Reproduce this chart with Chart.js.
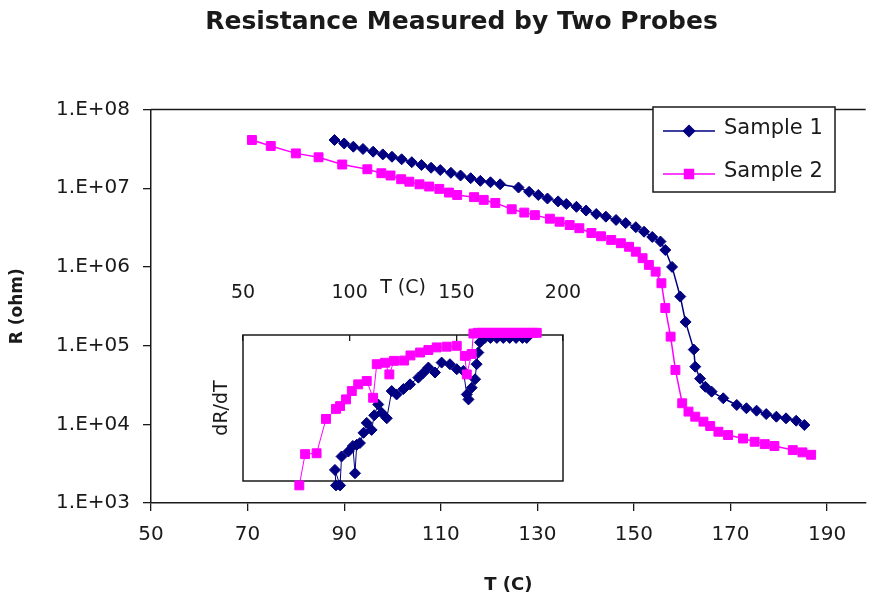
<!DOCTYPE html>
<html>
<head>
<meta charset="utf-8">
<script src="https://cdn.jsdelivr.net/npm/chart.js@4/dist/chart.umd.min.js"></script>
<style>
  html, body { margin: 0; padding: 0; background: #fff; }
  #wrap { position: relative; width: 873px; height: 605px; }
  #main { position: absolute; left: 0; top: 0; }
  #inset { position: absolute; left: 200px; top: 270px; }
</style>
</head>
<body>
<div id="wrap">
  <canvas id="main" width="873" height="605"></canvas>
  <canvas id="inset" width="380" height="230"></canvas>
</div>
<script>
// main chart: resistance vs temperature
const tempTicks = [50, 70, 90, 110, 130, 150, 170, 190];
const resTicks = [1e3, 1e4, 1e5, 1e6, 1e7, 1e8];

const s1Temp = [88.0, 90.0, 91.9, 93.9, 96.0, 98.0, 99.9, 101.9, 104.0, 106.0,
  108.0, 109.9, 112.1, 114.1, 116.2, 118.2, 120.3, 122.3, 126.1, 128.3,
  130.2, 132.1, 134.3, 136.0, 138.1, 140.1, 142.2, 144.2, 146.3, 148.3,
  150.4, 152.1, 153.8, 155.5, 156.5, 157.9, 159.6, 160.7, 162.4, 162.7,
  163.7, 164.8, 166.1, 168.5, 171.3, 173.3, 175.4, 177.4, 179.5, 181.5,
  183.6, 185.3];
const s1Res = [4.1e7, 3.7e7, 3.37e7, 3.15e7, 2.91e7, 2.69e7, 2.51e7, 2.33e7, 2.14e7, 1.97e7,
  1.82e7, 1.70e7, 1.57e7, 1.45e7, 1.34e7, 1.24e7, 1.19e7, 1.12e7, 1.02e7, 9.0e6,
  8.2e6, 7.4e6, 6.8e6, 6.3e6, 5.8e6, 5.2e6, 4.7e6, 4.35e6, 3.95e6, 3.6e6,
  3.2e6, 2.8e6, 2.4e6, 2.1e6, 1.64e6, 1.0e6, 4.2e5, 2.0e5, 8.9e4, 5.4e4,
  3.8e4, 3.0e4, 2.6e4, 2.14e4, 1.76e4, 1.6e4, 1.49e4, 1.35e4, 1.25e4, 1.19e4,
  1.11e4, 9.8e3];

const s2Temp = [70.9, 74.8, 80.0, 84.7, 89.6, 94.8, 97.7, 99.6, 101.8, 103.5,
  105.6, 107.6, 109.7, 111.7, 113.4, 116.9, 118.9, 121.3, 124.7, 127.3,
  129.5, 132.6, 134.6, 136.7, 138.7, 141.2, 143.2, 145.3, 147.3, 149.0,
  150.4, 151.8, 153.1, 154.5, 155.7, 156.5, 157.6, 158.6, 160.0, 161.3,
  162.7, 164.4, 165.8, 167.5, 169.5, 172.6, 175.0, 177.1, 179.1, 182.9,
  184.9, 186.7];
const s2Res = [4.1e7, 3.44e7, 2.77e7, 2.47e7, 2.0e7, 1.74e7, 1.55e7, 1.45e7, 1.30e7, 1.21e7,
  1.12e7, 1.05e7, 9.8e6, 8.8e6, 8.2e6, 7.7e6, 7.1e6, 6.5e6, 5.4e6, 4.9e6,
  4.55e6, 4.1e6, 3.75e6, 3.4e6, 3.1e6, 2.7e6, 2.45e6, 2.2e6, 2.0e6, 1.8e6,
  1.56e6, 1.29e6, 1.06e6, 8.7e5, 6.2e5, 3.0e5, 1.3e5, 4.9e4, 1.85e4, 1.45e4,
  1.25e4, 1.08e4, 9.5e3, 8.05e3, 7.3e3, 6.6e3, 6.0e3, 5.6e3, 5.3e3, 4.7e3,
  4.4e3, 4.1e3];

// inset: dR/dT (no scale given, arbitrary units 0-100)
const insetTicks = [50, 100, 150, 200];

const in1Temp = [93.6, 93.1, 95.5, 96.2, 99.4, 101.5, 102.5, 103.3, 104.8, 106.5,
  108.0, 110.3, 111.5, 113.4, 115.0, 117.4, 119.7, 122.0, 125.2, 128.3,
  132.2, 134.5, 136.9, 140.0, 143.1, 147.0, 150.2, 153.3, 154.9, 155.7,
  157.2, 158.8, 159.5, 160.3, 161.1, 163.4, 166, 169, 172, 175,
  178, 181, 183];
const in1Slope = [-3, 7.6, -3, 16.8, 20.2, 24, 5.3, 24.8, 26, 33,
  39.8, 35, 45, 52.4, 46.7, 43, 61.6, 59.3, 63, 66.2,
  70.8, 74, 77.7, 74.3, 81.1, 80, 76.6, 75.4, 59.3, 55.9,
  63.9, 69.7, 80, 88, 95, 98, 98, 98, 98, 98,
  98, 98, 98];

const in2Temp = [76.4, 79.1, 84.5, 88.9, 93.6, 95.5, 98.3, 101.0, 104.0, 108.0,
  111.0, 112.7, 116.6, 118.6, 120.8, 125.5, 128.5, 133.0, 136.9, 140.8,
  145.5, 150.2, 154.0, 154.9, 157.2, 158.0, 160, 162, 164, 166,
  168, 170, 172, 174, 176, 178, 180, 182, 184, 186,
  187.7];
const in2Slope = [-3, 18.4, 19, 42.5, 49.4, 51.3, 55.9, 61.6, 66.2, 68.5,
  57, 80, 81, 73, 82.3, 82.5, 86, 88, 89.7, 91.5,
  92, 92.6, 85.7, 73, 87, 101, 101.5, 101.5, 101.5, 101.5,
  101.5, 101.5, 101.5, 101.5, 101.5, 101.5, 101.5, 101.5, 101.5, 101.5,
  101.5];

const NAVY = '#000080';
const MAGENTA = '#FF00FF';
const INK = '#1a1a1a';
const FONT = 'DejaVu Sans';

function toPoints(xs, ys) {
  return xs.map((x, i) => ({ x: x, y: ys[i] }));
}

function fixedTicks(list) {
  return function (scale) {
    scale.ticks = list.map(v => ({ value: v }));
  };
}

// top edge of the plot area + legend box drawn inside the plot
const mainDecor = {
  id: 'mainDecor',
  beforeDatasetsDraw(chart) {
    const { ctx, chartArea } = chart;
    ctx.save();
    ctx.strokeStyle = INK;
    ctx.lineWidth = 1.5;
    ctx.beginPath();
    ctx.moveTo(chartArea.left, chartArea.top);
    ctx.lineTo(chartArea.right, chartArea.top);
    ctx.stroke();
    ctx.restore();
  },
  afterDraw(chart) {
    const ctx = chart.ctx;
    const box = { x: 653, y: 107, w: 182, h: 85 };
    ctx.save();
    ctx.fillStyle = '#fff';
    ctx.fillRect(box.x, box.y, box.w, box.h);
    ctx.strokeStyle = INK;
    ctx.lineWidth = 1.5;
    ctx.strokeRect(box.x, box.y, box.w, box.h);
    chart.data.datasets.forEach((ds, i) => {
      const y = box.y + 24 + i * 43;
      ctx.strokeStyle = ds.borderColor;
      ctx.fillStyle = ds.backgroundColor;
      ctx.lineWidth = ds.borderWidth;
      ctx.beginPath();
      ctx.moveTo(box.x + 10, y);
      ctx.lineTo(box.x + 62, y);
      ctx.stroke();
      Chart.helpers.drawPoint(ctx, {
        pointStyle: ds.pointStyle, radius: ds.pointRadius,
        borderWidth: ds.pointBorderWidth, rotation: 0
      }, box.x + 36, y);
      ctx.fillStyle = INK;
      ctx.font = '21px "' + FONT + '"';
      ctx.textBaseline = 'middle';
      ctx.textAlign = 'left';
      ctx.fillText(ds.label, box.x + 71, y - 2);
    });
    ctx.restore();
  }
};

new Chart(document.getElementById('main'), {
  type: 'scatter',
  data: {
    datasets: [
      {
        label: 'Sample 1', data: toPoints(s1Temp, s1Res), showLine: true,
        borderColor: NAVY, backgroundColor: NAVY, borderWidth: 1.5,
        pointStyle: 'rectRot', pointRadius: 5.5, pointBorderWidth: 1
      },
      {
        label: 'Sample 2', data: toPoints(s2Temp, s2Res), showLine: true,
        borderColor: MAGENTA, backgroundColor: MAGENTA, borderWidth: 1.5,
        pointStyle: 'rect', pointRadius: 6.3, pointBorderWidth: 1
      }
    ]
  },
  options: {
    responsive: false,
    animation: false,
    devicePixelRatio: 1,
    layout: { padding: { left: 50, right: 0, top: 0, bottom: 0 } },
    plugins: {
      legend: { display: false },
      tooltip: { enabled: false },
      title: {
        display: true, text: 'Resistance Measured by Two Probes', color: INK,
        font: { family: FONT, size: 25, weight: 'bold' },
        padding: { top: 7, bottom: 72.5 }
      }
    },
    scales: {
      x: {
        type: 'linear', min: 50, max: 198,
        afterBuildTicks: fixedTicks(tempTicks),
        afterFit(scale) { scale.height = 102; },
        ticks: { color: INK, font: { family: FONT, size: 20 }, padding: 12 },
        grid: { drawOnChartArea: false, color: INK, lineWidth: 1.3, tickLength: 8 },
        border: { color: INK, width: 1.5 },
        title: {
          display: true, text: 'T (C)', color: INK,
          font: { family: FONT, size: 18, weight: 'bold' },
          padding: { top: 0, bottom: 9 }
        }
      },
      y: {
        type: 'logarithmic', min: 1e3, max: 1e8,
        afterBuildTicks: fixedTicks(resTicks),
        afterFit(scale) { scale.width = 101; },
        ticks: {
          color: INK, font: { family: FONT, size: 20 }, padding: 13,
          callback: v => '1.E+0' + Math.round(Math.log10(v))
        },
        grid: { drawOnChartArea: false, color: INK, lineWidth: 1.3, tickLength: 8 },
        border: { color: INK, width: 1.5 },
        title: {
          display: true, text: 'R (ohm)', color: INK,
          font: { family: FONT, size: 17, weight: 'bold' },
          padding: { top: -42.2, bottom: 0 }
        }
      }
    }
  },
  plugins: [mainDecor]
});

// frame around the inset plot
const insetFrame = {
  id: 'insetFrame',
  beforeDatasetsDraw(chart) {
    const { ctx, chartArea } = chart;
    ctx.save();
    ctx.strokeStyle = INK;
    ctx.lineWidth = 1.5;
    ctx.strokeRect(chartArea.left, chartArea.top, chartArea.width, chartArea.height);
    ctx.restore();
  }
};

new Chart(document.getElementById('inset'), {
  type: 'scatter',
  data: {
    datasets: [
      {
        label: 'Sample 1', data: toPoints(in1Temp, in1Slope), showLine: true,
        borderColor: NAVY, backgroundColor: NAVY, borderWidth: 1,
        pointStyle: 'rectRot', pointRadius: 5.5, pointBorderWidth: 1,
        order: 1, clip: false
      },
      {
        label: 'Sample 2', data: toPoints(in2Temp, in2Slope), showLine: true,
        borderColor: MAGENTA, backgroundColor: MAGENTA, borderWidth: 1,
        pointStyle: 'rect', pointRadius: 6.3, pointBorderWidth: 1,
        order: 0, clip: false
      }
    ]
  },
  options: {
    responsive: false,
    animation: false,
    devicePixelRatio: 1,
    layout: { padding: { left: 0, top: 0, right: 17, bottom: 19 } },
    plugins: {
      legend: { display: false },
      tooltip: { enabled: false }
    },
    scales: {
      x: {
        type: 'linear', position: 'top', min: 50, max: 200,
        afterBuildTicks: fixedTicks(insetTicks),
        afterFit(scale) {
          scale.height = 65;
          scale.paddingLeft = 0;
          scale.paddingRight = 0;
        },
        ticks: { color: INK, font: { family: FONT, size: 19 }, padding: 36.6 },
        grid: { drawOnChartArea: false, color: INK, lineWidth: 1.3, tickLength: -6 },
        border: { display: false },
        title: {
          display: true, text: 'T (C)', color: INK,
          font: { family: FONT, size: 19 },
          padding: { top: 6.6, bottom: 0 }
        }
      },
      y: {
        min: 0, max: 100,
        afterFit(scale) { scale.width = 43; },
        ticks: { display: false },
        grid: { display: false },
        border: { display: false },
        title: {
          display: true, text: 'dR/dT', color: INK,
          font: { family: FONT, size: 19 },
          padding: { top: 10.6, bottom: 0 }
        }
      }
    }
  },
  plugins: [insetFrame]
});
</script>
</body>
</html>
